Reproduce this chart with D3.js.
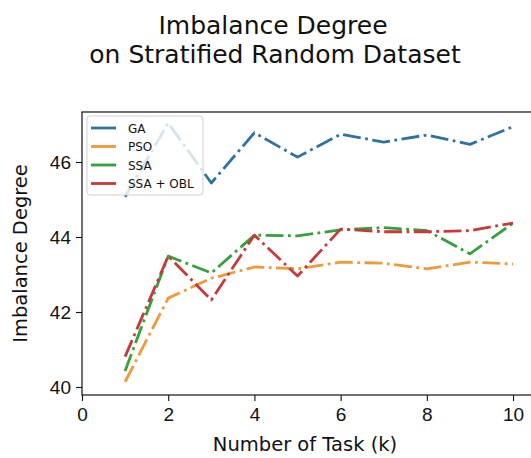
<!DOCTYPE html>
<html>
<head>
<meta charset="utf-8">
<script src="https://cdn.jsdelivr.net/npm/d3@7"></script>
<style>
  html, body { margin: 0; padding: 0; background: #fff; }
  svg { display: block; font-family: "DejaVu Sans", sans-serif; }
</style>
</head>
<body>
<svg id="chart" width="531" height="458"></svg>
<script>
// Imbalance degree per number of tasks, one series per algorithm
const tasks = [1, 2, 3, 4, 5, 6, 7, 8, 9, 10];
const seriesNames = ["GA", "PSO", "SSA", "SSA + OBL"];
const gaValues     = [45.07, 47.04, 45.44, 46.78, 46.13, 46.74, 46.53, 46.72, 46.47, 46.94];
const psoValues    = [40.14, 42.37, 42.90, 43.20, 43.15, 43.33, 43.30, 43.15, 43.33, 43.28];
const ssaValues    = [40.43, 43.49, 43.04, 44.05, 44.03, 44.19, 44.25, 44.17, 43.55, 44.37];
const ssaOblValues = [40.81, 43.49, 42.32, 44.05, 42.96, 44.21, 44.14, 44.14, 44.17, 44.37];
const xTicks = [0, 2, 4, 6, 8, 10];
const yTicks = [40, 42, 44, 46];
const colors = ["#2e73a0", "#f0983a", "#36a03a", "#c83a3a"];

const allValues = [gaValues, psoValues, ssaValues, ssaOblValues];
const series = seriesNames.map((name, i) => ({
  name,
  color: colors[i],
  points: tasks.map((t, j) => ({ x: t, y: allValues[i][j] }))
}));

const svg = d3.select("#chart");
const margin = { left: 82, top: 112 };
const width = 450, height = 283;

const x = d3.scaleLinear().domain([0, 10.44]).range([0, width]);
const y = d3.scaleLinear().domain([39.787, 47.333]).range([height, 0]);

const g = svg.append("g").attr("transform", `translate(${margin.left},${margin.top})`);

// Lines (dash-dot)
const lw = 2.8;
const line = d3.line().x(d => x(d.x)).y(d => y(d.y));
g.selectAll("path.series")
  .data(series)
  .join("path")
  .attr("class", "series")
  .attr("d", d => line(d.points))
  .attr("fill", "none")
  .attr("stroke", d => d.color)
  .attr("stroke-width", lw)
  .attr("stroke-linejoin", "round")
  .attr("stroke-linecap", "butt")
  .attr("stroke-dasharray", [6.4 * lw, 1.6 * lw, 1.0 * lw, 1.6 * lw].join(","));

// Axes
const xAxis = d3.axisBottom(x).tickValues(xTicks).tickSize(6).tickPadding(7);
const yAxis = d3.axisLeft(y).tickValues(yTicks).tickSize(6).tickPadding(5);

const gx = g.append("g").attr("transform", `translate(0,${height})`).call(xAxis);
const gy = g.append("g").call(yAxis);
[gx, gy].forEach(a => {
  a.select(".domain").remove();
  a.selectAll(".tick line").attr("stroke", "#111").attr("stroke-width", 1.1);
  a.selectAll(".tick text").attr("fill", "#111").style("font-size", "19px");
});

// Frame
g.append("rect")
  .attr("x", 0).attr("y", 0).attr("width", width).attr("height", height)
  .attr("fill", "none").attr("stroke", "#111").attr("stroke-width", 1.2);

// Axis labels
svg.append("text")
  .attr("x", 305).attr("y", 451)
  .attr("text-anchor", "middle").attr("fill", "#111")
  .style("font-size", "19.5px")
  .text("Number of Task (k)");

svg.append("text")
  .attr("transform", `translate(27,${margin.top + height / 2}) rotate(-90)`)
  .attr("text-anchor", "middle").attr("fill", "#111")
  .style("font-size", "19.5px")
  .text("Imbalance Degree");

// Title
const title = svg.append("text")
  .attr("text-anchor", "middle").attr("fill", "#111")
  .style("font-size", "25px");
title.append("tspan").attr("x", 273).attr("y", 34).text("Imbalance Degree");
title.append("tspan").attr("x", 275).attr("y", 63).text("on Stratified Random Dataset");

// Legend
const legend = svg.append("g").attr("transform", "translate(87,116)");
legend.append("rect")
  .attr("width", 116).attr("height", 79)
  .attr("rx", 3).attr("ry", 3)
  .attr("fill", "#fff").attr("fill-opacity", 0.8)
  .attr("stroke", "#d0d0d0").attr("stroke-width", 1);
const items = legend.selectAll("g.item")
  .data(series)
  .join("g")
  .attr("class", "item")
  .attr("transform", (d, i) => `translate(0,${12 + i * 18.5})`);
items.append("line")
  .attr("x1", 4).attr("x2", 29).attr("y1", 0).attr("y2", 0)
  .attr("stroke", d => d.color).attr("stroke-width", lw);
items.append("text")
  .attr("x", 41).attr("y", 4.5)
  .attr("fill", "#111")
  .style("font-size", "12px")
  .text(d => d.name);
</script>
</body>
</html>
